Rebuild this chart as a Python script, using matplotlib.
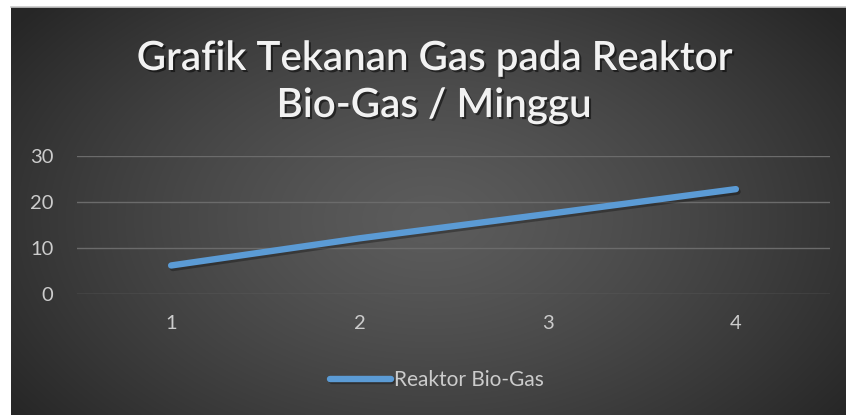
import numpy as np
import matplotlib
matplotlib.use('Agg')
import matplotlib.pyplot as plt
import matplotlib.patheffects as pe

weeks = ['1', '2', '3', '4']
tekanan = [6.2, 12.1, 17.4, 22.8]
series_name = 'Reaktor Bio-Gas'
title_lines = ['Grafik Tekanan Gas pada Reaktor', 'Bio-Gas / Minggu']

plt.rcParams['font.family'] = ['Lato', 'DejaVu Sans']

W, H = 846, 415
fig = plt.figure(figsize=(W / 100, H / 100), dpi=100)
fig.patch.set_facecolor('white')

# background with radial gradient (pixel coordinates)
bg = fig.add_axes([0, 0, 1, 1], zorder=0)
bg.set_xlim(0, W)
bg.set_ylim(H, 0)
bg.axis('off')
gx, gy = np.meshgrid(np.linspace(11, W, 400), np.linspace(8, H, 200))
d = np.sqrt(((gx - 430) / 520) ** 2 + ((gy - 220) / 330) ** 2)
d = np.clip(d, 0, 1)
shade = 0.36 - 0.21 * d ** 1.3
img = np.dstack([shade, shade, shade])
bg.imshow(img, extent=[11, W, H, 8], aspect='auto', interpolation='bilinear')
bg.plot([11, W], [7.5, 7.5], color='#c8c8c8', lw=1.2)

ax = fig.add_axes([77 / W, 1 - 294 / H, (830 - 77) / W, (294 - 156) / H], zorder=1)
ax.set_facecolor('none')

x = np.arange(len(weeks))
line, = ax.plot(x, tekanan, color='#5b9bd5', lw=4.6, solid_capstyle='round',
                label=series_name,
                path_effects=[pe.SimpleLineShadow(offset=(1.2, -1.8), shadow_color='black', alpha=0.3),
                              pe.Normal()])

ax.set_xlim(-0.5, len(weeks) - 0.5)
ax.set_ylim(0, 30)
ax.set_yticks([0, 10, 20, 30])
ax.set_xticks(x)
ax.set_xticklabels(weeks)
ax.grid(axis='y', color='#6b6b6b', lw=1)
ax.set_axisbelow(True)
for s in ax.spines.values():
    s.set_visible(False)
ax.tick_params(length=0, labelsize=14.5, colors='#cccccc')
ax.tick_params(axis='y', pad=17)
ax.tick_params(axis='x', pad=15)

shadow = [pe.SimplePatchShadow(offset=(1.5, -1.5), shadow_rgbFace='black', alpha=0.5), pe.Normal()]
for txt, base in zip(title_lines, [70, 117]):
    fig.text(434 / W, 1 - base / H, txt, ha='center', va='baseline', fontsize=29,
             fontweight='semibold', color='#f2f2f2', path_effects=shadow)

leg = fig.legend(handles=[line], loc='center', bbox_to_anchor=(437 / W, 1 - 380 / H),
                 frameon=False, fontsize=15, handlelength=2.9, handletextpad=0.15)
for t in leg.get_texts():
    t.set_color('#cccccc')

fig.savefig('out.png', dpi=100)
